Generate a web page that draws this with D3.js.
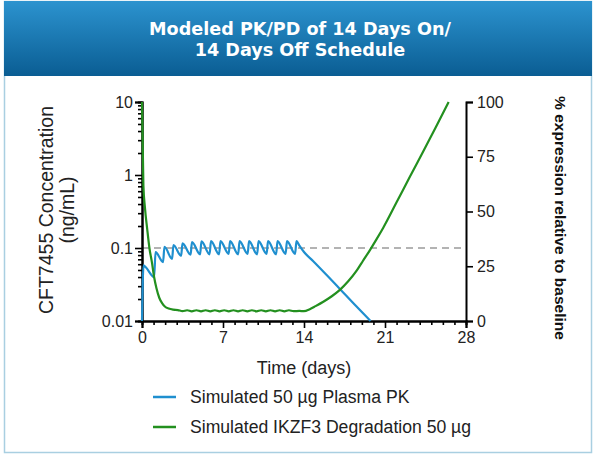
<!DOCTYPE html>
<head>
<meta charset="utf-8">
<style>
    body { margin: 0; background: #fff; }
    text { font-family: "Liberation Sans", Arial, sans-serif; }
</style>
<script src="https://d3js.org/d3.v7.min.js"></script>
</head>
<body>
<script>
// values
var titleLines = ["Modeled PK/PD of 14 Days On/", "14 Days Off Schedule"];

var pkDays = [0, 0.13, 0.35, 1.05, 1.17, 1.82, 1.94, 2.6, 2.72, 3.38, 3.5, 4.2, 4.32, 5.02, 5.14,
    5.84, 5.96, 6.66, 6.78, 7.49, 7.61, 8.31, 8.43, 9.13, 9.25, 9.95, 10.07, 10.77, 10.89,
    11.59, 11.71, 12.41, 12.53, 13.23, 13.35, 13.6, 14.0, 14.8, 16.0, 17.1, 18.5, 19.75];
var pkConc = [0.01, 0.058, 0.054, 0.04, 0.088, 0.064, 0.104, 0.071, 0.11, 0.078, 0.116, 0.081, 0.12, 0.082, 0.123,
    0.082, 0.124, 0.082, 0.124, 0.083, 0.124, 0.082, 0.124, 0.083, 0.124, 0.082, 0.124, 0.083, 0.124,
    0.082, 0.124, 0.083, 0.124, 0.083, 0.124, 0.108, 0.088, 0.066, 0.042, 0.0275, 0.016, 0.01];

var pdDays = [0, 0.05, 0.12, 0.25, 0.45, 0.65, 0.85, 1.05, 1.25, 1.5, 1.75, 2.0, 2.3, 2.7, 3.1,
    3.5, 3.9, 4.3, 4.7, 5.1, 5.5, 5.9, 6.3, 6.7, 7.1, 7.5, 7.9, 8.3, 8.7, 9.1, 9.5, 9.9,
    10.3, 10.7, 11.1, 11.5, 11.9, 12.3, 12.7, 13.1, 13.6, 14.0, 14.5, 15.0, 15.67, 16.4, 17.1,
    17.8, 18.55, 19.1, 19.7, 20.3, 20.85, 22.0, 23.16, 24.3, 25.4, 26.5];
var pdPct = [100, 85, 62, 52, 42, 33, 27, 20, 15, 10.5, 8, 6.5, 5.7, 5.2, 5.0,
    4.5, 4.9, 4.4, 4.9, 4.4, 4.9, 4.4, 4.9, 4.4, 4.9, 4.4, 4.9, 4.4, 4.9, 4.4, 4.9, 4.4,
    4.9, 4.4, 4.9, 4.4, 4.9, 4.4, 4.9, 4.5, 4.6, 4.5, 5.4, 6.8, 8.8, 11.3, 14.2,
    18.0, 23.0, 27.5, 32.4, 37.6, 42.6, 54.2, 66.0, 77.4, 88.6, 100];

var refConc = 0.1;
var xTicks = [0, 7, 14, 21, 28];
var yLeftTicks = [0.01, 0.1, 1, 10];
var yRightTicks = [0, 25, 50, 75, 100];
var seriesNames = ["Simulated 50 \u00b5g Plasma PK", "Simulated IKZF3 Degradation 50 \u00b5g"];
var seriesColors = ["#1f8fcf", "#23901f"];

var width = 595, height = 455;
var svg = d3.select("body").append("svg")
    .attr("width", width)
    .attr("height", height);

// card + banner
var grad = svg.append("defs").append("linearGradient")
    .attr("id", "bannerGrad")
    .attr("x1", 0).attr("y1", 0).attr("x2", 0).attr("y2", 1);
grad.append("stop").attr("offset", "0%").attr("stop-color", "#2c93cf");
grad.append("stop").attr("offset", "100%").attr("stop-color", "#0a5d93");

svg.append("rect")
    .attr("x", 4.5).attr("y", 1.5)
    .attr("width", 587).attr("height", 451)
    .attr("fill", "#fff")
    .attr("stroke", "#a9cfe1")
    .attr("stroke-width", 1.5);

svg.append("rect")
    .attr("x", 4).attr("y", 1)
    .attr("width", 588).attr("height", 75)
    .attr("fill", "url(#bannerGrad)");

svg.selectAll("text.title")
    .data(titleLines)
  .enter().append("text")
    .attr("class", "title")
    .attr("x", 300)
    .attr("y", function(d, i) { return 35 + i * 21; })
    .attr("text-anchor", "middle")
    .attr("fill", "#fff")
    .style("font-family", "'DejaVu Sans', sans-serif")
    .style("font-weight", "bold")
    .style("font-size", "17.6px")
    .text(function(d) { return d; });

// scales
var x = d3.scaleLinear().domain([0, 28]).range([142, 466]);
var yL = d3.scaleLog().domain([0.01, 10]).range([321, 102]);
var yR = d3.scaleLinear().domain([0, 100]).range([321, 102]);

// reference dashed line at 0.1 ng/mL
svg.append("line")
    .attr("x1", x(0)).attr("x2", x(28))
    .attr("y1", yL(refConc)).attr("y2", yL(refConc))
    .attr("stroke", "#b3b3b3")
    .attr("stroke-width", 2)
    .attr("stroke-dasharray", "7,5");

// axes
function styleAxis(g) {
    g.selectAll("path.domain").attr("stroke", "#000").attr("stroke-width", 2);
    g.selectAll(".tick line").attr("stroke", "#000").attr("stroke-width", 1.6);
    g.selectAll(".tick text")
        .attr("fill", "#222")
        .style("font-size", "16px");
}

// left log axis, minor ticks first
var minorL = yL.ticks().filter(function(v) { return yLeftTicks.indexOf(v) < 0; });
svg.append("g")
    .attr("transform", "translate(" + x(0) + ",0)")
    .call(d3.axisLeft(yL).tickValues(minorL).tickSize(4).tickFormat(""))
    .call(styleAxis);
svg.append("g")
    .attr("transform", "translate(" + x(0) + ",0)")
    .call(d3.axisLeft(yL).tickValues(yLeftTicks).tickSize(7).tickPadding(2)
        .tickFormat(function(d) { return d3.format("~g")(d); }))
    .call(styleAxis);

// bottom axis with daily minor ticks
var minorX = d3.range(0, 29).filter(function(v) { return xTicks.indexOf(v) < 0; });
svg.append("g")
    .attr("transform", "translate(0," + yL(0.01) + ")")
    .call(d3.axisBottom(x).tickValues(minorX).tickSize(4).tickFormat(""))
    .call(styleAxis);
svg.append("g")
    .attr("transform", "translate(0," + yL(0.01) + ")")
    .call(d3.axisBottom(x).tickValues(xTicks).tickSize(7).tickPadding(4))
    .call(styleAxis);

// right axis
svg.append("g")
    .attr("transform", "translate(" + x(28) + ",0)")
    .call(d3.axisRight(yR).tickValues(yRightTicks).tickSize(7).tickPadding(4))
    .call(styleAxis);

// lines, drawn over the axes
var pkData = pkDays.map(function(d, i) { return [d, pkConc[i]]; });
var pdData = pdDays.map(function(d, i) { return [d, pdPct[i]]; });

svg.append("path")
    .datum(pkData)
    .attr("fill", "none")
    .attr("stroke", seriesColors[0])
    .attr("stroke-width", 2.2)
    .attr("d", d3.line()
        .curve(d3.curveMonotoneX)
        .x(function(d) { return x(d[0]); })
        .y(function(d) { return yL(d[1]); }));

svg.append("path")
    .datum(pdData)
    .attr("fill", "none")
    .attr("stroke", seriesColors[1])
    .attr("stroke-width", 2.2)
    .attr("d", d3.line()
        .curve(d3.curveMonotoneX)
        .x(function(d) { return x(d[0]); })
        .y(function(d) { return yR(d[1]); }));

// axis titles
svg.append("text")
    .attr("x", 304).attr("y", 374)
    .attr("text-anchor", "middle")
    .attr("fill", "#222")
    .style("font-size", "18px")
    .text("Time (days)");

var leftTitle = svg.append("text")
    .attr("transform", "translate(53,210) rotate(-90)")
    .attr("text-anchor", "middle")
    .attr("fill", "#222")
    .style("font-size", "19.5px");
leftTitle.append("tspan").attr("x", 0).attr("dy", 0).text("CFT7455 Concentration");
leftTitle.append("tspan").attr("x", 0).attr("dy", 21).text("(ng/mL)");

svg.append("text")
    .attr("transform", "translate(555,218) rotate(90)")
    .attr("text-anchor", "middle")
    .attr("fill", "#111")
    .style("font-size", "15.5px")
    .style("font-weight", "bold")
    .text("% expression relative to baseline");

// legend
var legend = svg.selectAll("g.legend")
    .data(seriesNames)
  .enter().append("g")
    .attr("class", "legend")
    .attr("transform", function(d, i) { return "translate(153," + (397 + i * 30) + ")"; });

legend.append("line")
    .attr("x1", 0).attr("x2", 23)
    .attr("stroke", function(d, i) { return seriesColors[i]; })
    .attr("stroke-width", 2.5);

legend.append("text")
    .attr("x", 37).attr("y", 6)
    .attr("fill", "#222")
    .style("font-size", "17.6px")
    .text(function(d) { return d; });
</script>
</body>
